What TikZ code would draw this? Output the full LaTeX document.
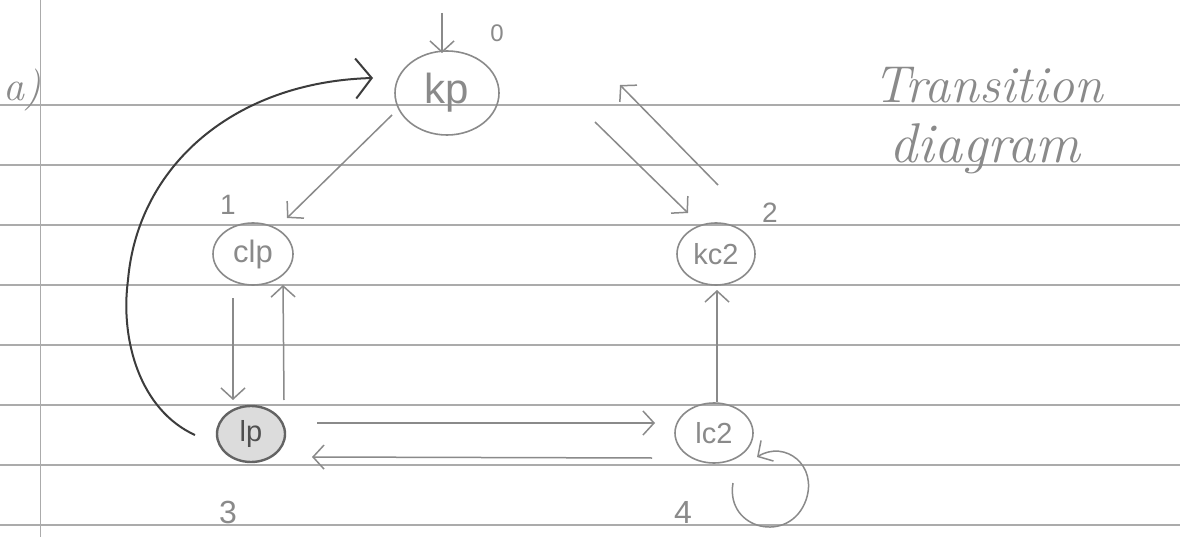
\documentclass[tikz,border=0pt]{standalone}
\usepackage{fontspec}
\setsansfont{Liberation Sans}
\usetikzlibrary{shapes.geometric,arrows.meta,calc}
\definecolor{rulec}{HTML}{ABABAB}
\definecolor{pen}{HTML}{8A8A8A}
\definecolor{ink}{HTML}{3C3C3C}
\definecolor{lpfill}{HTML}{DCDCDC}
\begin{document}
\begin{tikzpicture}[x=1pt,y=-1pt,
  state/.style={ellipse, draw=pen, line width=1.6pt, inner sep=0pt, text=pen},
  conn/.style={draw=pen, line width=1.5pt, -{Straight Barb[length=11pt,width=24pt]}},
  bigconn/.style={draw=ink, line width=2pt, -{Straight Barb[length=16pt,width=40pt]}},
  ruled/.style={draw=rulec, line width=1.3pt},
  lbl/.style={text=pen, inner sep=0pt}]
\fill[white] (0,0) rectangle (1180,537);
\useasboundingbox (0,0) rectangle (1180,537);
% ruled paper
\foreach \yy in {105,165,225,285,345,405,465,525} \draw[ruled] (0,\yy) -- (1180,\yy);
\draw[ruled, line width=1pt] (40,0) -- (40,537);
% states
\node[state, minimum width=104pt, minimum height=84pt, font=\sffamily\fontsize{42}{42}\selectfont] (kp) at (447,93) {kp};
\node[state, minimum width=80pt, minimum height=62pt, font=\sffamily\fontsize{31}{31}\selectfont] (clp) at (253,254) {clp};
\node[state, minimum width=78pt, minimum height=62pt, font=\sffamily\fontsize{29}{29}\selectfont] (kc2) at (716,254) {kc2};
\node[state, fill=lpfill, draw=ink!80, line width=2.4pt, minimum width=68pt, minimum height=56pt, text=ink!90, font=\sffamily\fontsize{29}{29}\selectfont] (lp) at (251,434) {lp};
\node[state, minimum width=78pt, minimum height=60pt, font=\sffamily\fontsize{29}{29}\selectfont] (lc2) at (714,433) {lc2};
% labels
\node[lbl, font=\sffamily\fontsize{24}{24}\selectfont] (n0) at (497,33) {0};
\node[lbl, font=\sffamily\fontsize{28}{28}\selectfont] (n1) at (228,205) {1};
\node[lbl, font=\sffamily\fontsize{28}{28}\selectfont] (n2) at (770,213) {2};
\node[lbl, font=\sffamily\fontsize{32}{32}\selectfont] (n3) at (228,512) {3};
\node[lbl, font=\sffamily\fontsize{32}{32}\selectfont] (n4) at (683,512) {4};
\node[lbl, anchor=base, font=\itshape\fontsize{42}{42}\selectfont] (lab) at (22,101) {a)};
\node[lbl, anchor=base, font=\itshape\fontsize{52}{52}\selectfont] (t1) at (988,103) {Transition};
\node[lbl, anchor=base, font=\itshape\fontsize{56}{56}\selectfont] (t2) at (985,163) {diagram};
% connectors
\coordinate (start) at (442,13);
\draw[conn] (start) -- ($(kp)+(-5,-40)$);
\draw[conn] ($(kp)+(-55,22)$) -- ($(clp)+(34,-36)$);
\draw[conn] ($(kp)+(148,29)$) -- ($(kc2)+(-28,-41)$);
\draw[conn] ($(kc2)+(2,-69)$) -- ($(kp)+(173,-8)$);
\draw[conn] ($(clp)+(-20,44)$) -- ($(lp)+(-18,-34)$);
\draw[conn] ($(lp)+(33,-34)$) -- ($(clp)+(30,31)$);
\draw[conn] ($(lp)+(66,-11)$) -- ($(lc2)+(-59,-10)$);
\draw[conn] ($(lc2)+(-62,25)$) -- ($(lp)+(61,23)$);
\draw[conn] ($(lc2)+(3,-31)$) -- ($(kc2)+(1,36)$);
\draw[conn] ($(lc2)+(19,50)$) .. controls ($(lc2)+(11,97)$) and ($(lc2)+(76,112)$) .. ($(lc2)+(92,67)$)
   .. controls ($(lc2)+(104,32)$) and ($(lc2)+(71,7)$) .. ($(lc2)+(43,24)$);
\draw[bigconn] ($(lp)+(-56,1)$) .. controls (140,410) and (120,340) .. (128,280)
   .. controls (138,165) and (235,82) .. ($(kp)+(-74,-15)$);
\end{tikzpicture}
\end{document}
